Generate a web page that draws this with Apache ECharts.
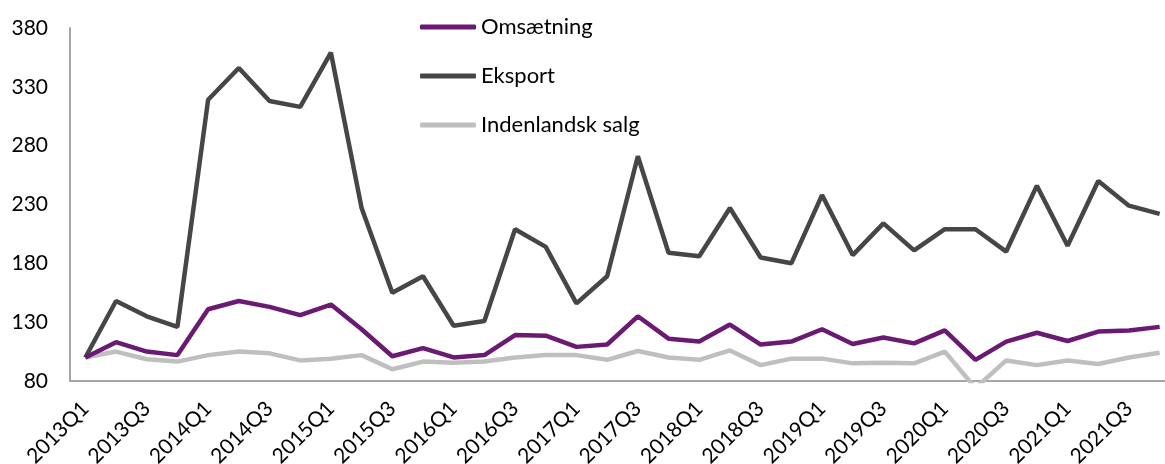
<!DOCTYPE html>
<html>
<head>
<meta charset="utf-8">
<script src="https://cdn.jsdelivr.net/npm/echarts@6/dist/echarts.min.js"></script>
<style>
  html, body { margin: 0; padding: 0; background: #fff; }
  #main { width: 1165px; height: 464px; }
</style>
</head>
<body>
<div id="main"></div>
<script>
// kvartaler
const quarters = [
  '2013Q1', '2013Q2', '2013Q3', '2013Q4', '2014Q1', '2014Q2', '2014Q3', '2014Q4',
  '2015Q1', '2015Q2', '2015Q3', '2015Q4', '2016Q1', '2016Q2', '2016Q3', '2016Q4',
  '2017Q1', '2017Q2', '2017Q3', '2017Q4', '2018Q1', '2018Q2', '2018Q3', '2018Q4',
  '2019Q1', '2019Q2', '2019Q3', '2019Q4', '2020Q1', '2020Q2', '2020Q3', '2020Q4',
  '2021Q1', '2021Q2', '2021Q3', '2021Q4'
];
const omsaetning = [
  100, 113, 105, 102, 141, 148, 143, 136, 145, 124, 101, 108, 100, 102, 119, 118.5,
  109, 111, 135, 116, 113.5, 128, 111, 113.5, 124, 111.5, 117, 112, 123, 98, 113.5, 121,
  114, 122, 123, 126
];
const eksport = [
  100, 148, 135, 126, 319, 346, 318, 313, 359, 227, 155, 169, 127, 131, 209, 194,
  146, 169, 271, 189, 186, 227, 185, 180, 238, 187, 214, 191, 209, 209, 190, 246,
  195, 250, 229, 222
];
const indenlandsk = [
  100, 105, 98.5, 96.5, 102, 105, 103.5, 97.5, 99, 102, 90, 96.5, 95.5, 96.5, 100, 102,
  102, 98, 105.5, 100, 98, 106, 93.5, 99, 99, 95, 95.5, 95, 105, 74, 97.5, 93.5,
  97.5, 94.5, 100, 104
];
const seriesNames = ['Omsætning', 'Eksport', 'Indenlandsk salg'];

const font = 'Lato, "Open Sans", sans-serif';
const axisGray = '#a6a6a6';

const myChart = echarts.init(document.getElementById('main'));
const option = {
  backgroundColor: '#fff',
  animation: false,
  grid: {
    left: 70,
    top: 28,
    width: 1105,
    height: 353,
    outerBoundsMode: 'none'
  },
  legend: {
    orient: 'vertical',
    left: 415,
    top: 9,
    data: seriesNames,
    icon: 'roundRect',
    itemWidth: 56,
    itemHeight: 5,
    itemGap: 23,
    textStyle: {
      fontFamily: font,
      fontSize: 22,
      lineHeight: 26,
      color: '#000'
    }
  },
  xAxis: {
    type: 'category',
    data: quarters,
    boundaryGap: true,
    axisTick: { show: false },
    axisLine: { lineStyle: { color: axisGray, width: 2 } },
    axisLabel: {
      interval: 1,
      rotate: 45,
      margin: 24,
      fontFamily: font,
      fontSize: 21,
      color: '#000'
    }
  },
  yAxis: {
    type: 'value',
    min: 80,
    max: 380,
    interval: 50,
    splitLine: { show: false },
    axisTick: { show: false },
    axisLine: { show: true, lineStyle: { color: axisGray, width: 2 } },
    axisLabel: {
      margin: 22,
      fontFamily: font,
      fontSize: 21,
      color: '#000'
    }
  },
  series: [
    {
      name: 'Indenlandsk salg',
      type: 'line',
      data: indenlandsk,
      showSymbol: false,
      symbol: 'none',
      color: '#bfbfbf',
      lineStyle: { width: 4.5, color: '#bfbfbf' }
    },
    {
      name: 'Eksport',
      type: 'line',
      data: eksport,
      showSymbol: false,
      symbol: 'none',
      color: '#464646',
      lineStyle: { width: 4.5, color: '#464646' }
    },
    {
      name: 'Omsætning',
      type: 'line',
      data: omsaetning,
      showSymbol: false,
      symbol: 'none',
      color: '#6a1a72',
      lineStyle: { width: 4.5, color: '#6a1a72' }
    }
  ]
};
myChart.setOption(option);
</script>
</body>
</html>
